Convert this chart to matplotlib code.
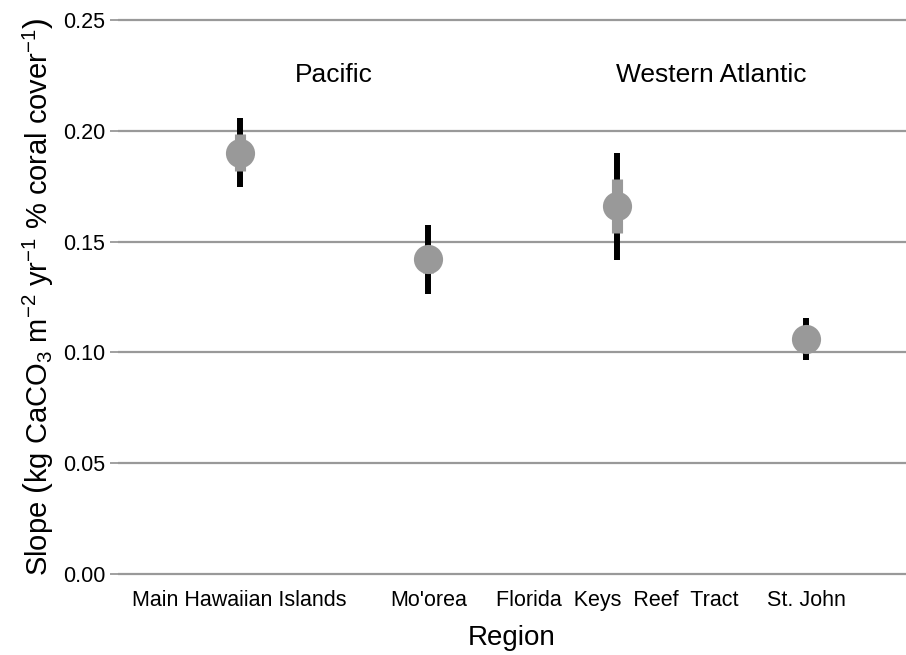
import matplotlib
matplotlib.use('Agg')
from matplotlib import pyplot as plt

plt.rcParams['font.family'] = ['Liberation Sans', 'DejaVu Sans']
plt.rcParams['mathtext.fontset'] = 'custom'
plt.rcParams['mathtext.rm'] = 'Liberation Sans'
plt.rcParams['mathtext.it'] = 'Liberation Sans:italic'

regions = ['Main Hawaiian Islands', "Mo'orea", 'Florida  Keys  Reef  Tract', 'St. John']
slope = [0.190, 0.142, 0.166, 0.106]
ci95_lo = [0.1746, 0.1264, 0.1417, 0.0966]
ci95_hi = [0.2058, 0.1575, 0.1900, 0.1155]
ci50_lo = [0.1819, 0.1360, 0.1539, 0.1010]
ci50_hi = [0.1986, 0.1480, 0.1783, 0.1100]
groups = ['Pacific', 'Western Atlantic']
yticks = [0.00, 0.05, 0.10, 0.15, 0.20, 0.25]

fig = plt.figure(figsize=(9.06, 6.55), dpi=100)
ax = fig.add_axes([0.130, 0.110, 0.870, 0.873])

x = list(range(1, len(regions) + 1))

for yt in yticks:
    ax.axhline(yt, color='#999999', lw=1.6, zorder=0)

# outer interval, inner interval, then the point
ax.vlines(x, ci95_lo, ci95_hi, color='black', lw=4.3, zorder=2)
ax.vlines(x, ci50_lo, ci50_hi, color='#999999', lw=8, zorder=3)
ax.plot(x, slope, 'o', color='#999999', ms=21, mec='none', zorder=4)

ax.text(1.5, 0.225, groups[0], ha='center', va='center', fontsize=19)
ax.text(3.5, 0.225, groups[1], ha='center', va='center', fontsize=19)

ax.set_xlim(0.355, 4.53)
ax.set_ylim(-0.004, 0.254)
ax.set_yticks(yticks)
ax.set_yticklabels(['%.2f' % v for v in yticks])
ax.set_xticks(x)
ax.set_xticklabels(regions)
ax.tick_params(axis='y', length=6, width=1.3, color='#999999', labelsize=15.5, pad=3)
ax.tick_params(axis='x', length=0, labelsize=15.5, pad=5)
for s in ax.spines.values():
    s.set_visible(False)

ax.set_xlabel('Region', fontsize=20, labelpad=10)
ax.set_ylabel(r'Slope $\left(\mathrm{kg\ CaCO_3\ m^{-2}\ yr^{-1}\ \%\ coral\ cover^{-1}}\right)$',
              fontsize=21, labelpad=5)

plt.savefig('out.png', dpi=100)
